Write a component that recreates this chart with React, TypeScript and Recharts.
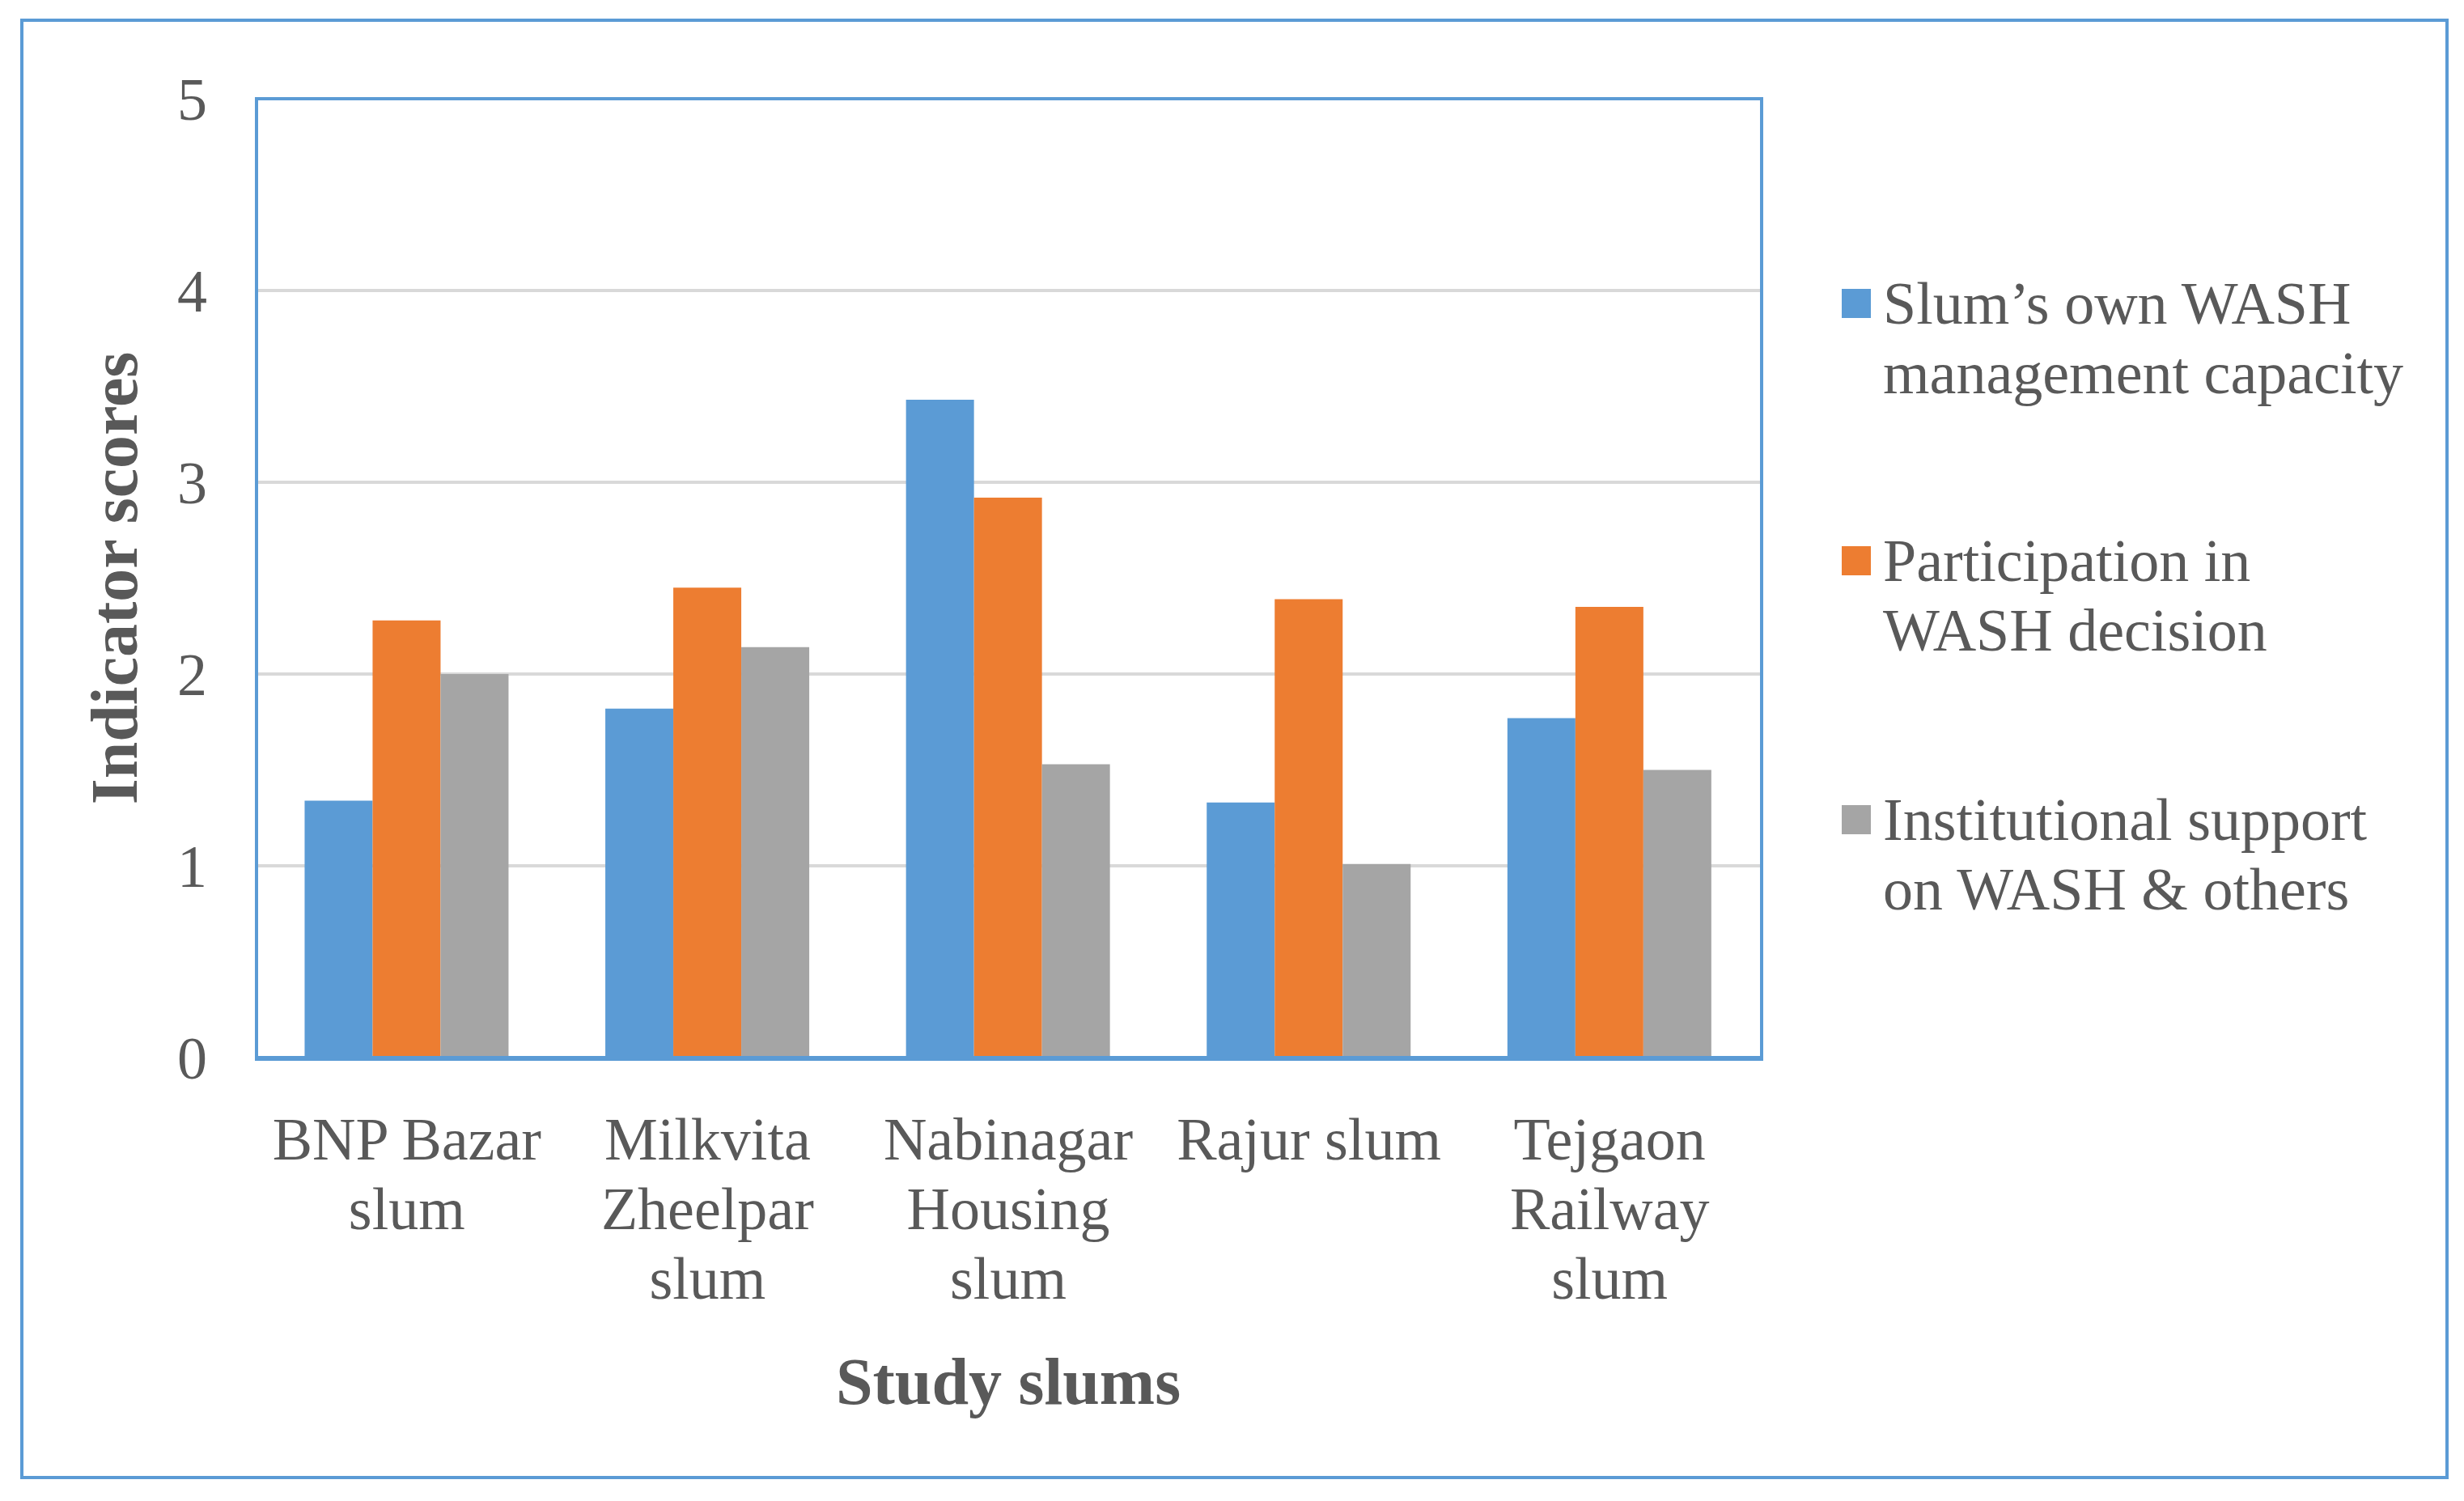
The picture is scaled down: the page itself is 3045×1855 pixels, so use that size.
import React from 'react';
import { BarChart, Bar, XAxis, YAxis, CartesianGrid, Label } from 'recharts';

const categories = ['BNP Bazar|slum', 'Milkvita|Zheelpar|slum', 'Nabinagar|Housing|slum', 'Rajur slum', 'Tejgaon|Railway|slum'];
const ownCapacity = [1.34, 1.82, 3.43, 1.33, 1.77];
const participation = [2.28, 2.45, 2.92, 2.39, 2.35];
const institutional = [2.0, 2.14, 1.53, 1.01, 1.50];
const yTicks = [0, 1, 2, 3, 4, 5];
const seriesNames = ["Slum\u2019s own WASH|management capacity", 'Participation in|WASH decision', 'Institutional support|on WASH & others'];
const colors = ['#5b9bd5', '#ed7d31', '#a5a5a5'];

const data = categories.map((c, i) => ({ name: c, a: ownCapacity[i], b: participation[i], c: institutional[i] }));
const FONT = '"Liberation Serif", "Times New Roman", serif';

const XTick = (props: any) => {
  const { x, y, payload } = props;
  const lines = String(payload.value).split('|');
  return (
    <text x={x} y={y} textAnchor="middle" fontFamily={FONT} fontSize={74} fill="#595959">
      {lines.map((l, i) => (
        <tspan key={i} x={x} dy={i === 0 ? 118 : 86}>{l}</tspan>
      ))}
    </text>
  );
};

export default function App() {
  return (
    <div style={{ position: 'relative', width: 3045, height: 1855, margin: -8, background: '#fff' }}>
      <div style={{ position: 'absolute', left: 25, top: 23, width: 2993, height: 1797, border: '4px solid #5b9bd5' }} />
      <BarChart width={3045} height={1855} data={data} margin={{ top: 122, left: 0, right: 870, bottom: 0 }} barCategoryGap="16%" barGap={0}>
        <CartesianGrid vertical={false} stroke="#d9d9d9" strokeWidth={4} />
        <XAxis dataKey="name" interval={0} tick={<XTick />} tickLine={false} axisLine={{ stroke: '#5b9bd5', strokeWidth: 4 }} height={548}>
          <Label value="Study slums" position="insideTop" offset={370} fontFamily={FONT} fontSize={82} fontWeight="bold" fill="#595959" />
        </XAxis>
        <YAxis domain={[0, 5]} ticks={yTicks} tickLine={false} axisLine={{ stroke: '#5b9bd5', strokeWidth: 4 }} width={317} tickMargin={55}
          tick={{ fontFamily: FONT, fontSize: 74, fill: '#595959' }}>
          <Label value="Indicator scores" angle={-90} position="insideLeft" offset={140} fontFamily={FONT} fontSize={82} fontWeight="bold" fill="#595959" style={{ textAnchor: 'middle' }} />
        </YAxis>
        <Bar dataKey="a" fill={colors[0]} isAnimationActive={false} />
        <Bar dataKey="b" fill={colors[1]} isAnimationActive={false} />
        <Bar dataKey="c" fill={colors[2]} isAnimationActive={false} />
      </BarChart>
      <div style={{ position: 'absolute', left: 315, top: 120, width: 1856, height: 1183, border: '4px solid #5b9bd5', pointerEvents: 'none' }} />
      {seriesNames.map((s, i) => {
        const top = [332, 650, 970][i];
        const lines = s.split('|');
        return (
          <div key={i} style={{ position: 'absolute', left: 2276, top, fontFamily: FONT, fontSize: 74, color: '#595959', lineHeight: '86px', whiteSpace: 'nowrap' }}>
            <div style={{ position: 'absolute', left: 0, top: 25, width: 36, height: 36, background: colors[i] }} />
            <div style={{ marginLeft: 51 }}>{lines[0]}<br />{lines[1]}</div>
          </div>
        );
      })}
    </div>
  );
}
